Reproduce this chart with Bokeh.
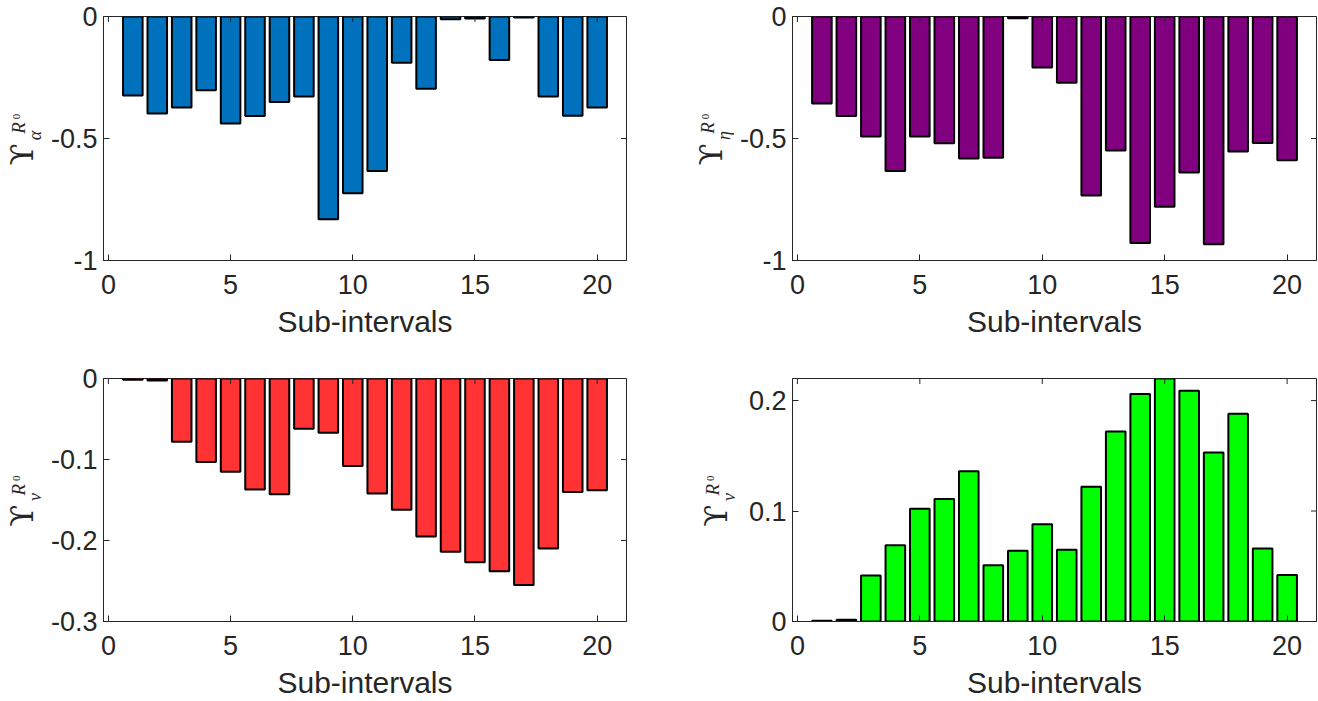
from math import pi
from bokeh.plotting import figure
from bokeh.layouts import column, row
from bokeh.models import Range1d, FixedTicker, ColumnDataSource
from bokeh.core.properties import value
from bokeh.embed import file_html
from bokeh.resources import INLINE

# ---------------- data ----------------
intervals = list(range(1, 21))
alpha_vals = [-0.324, -0.398, -0.373, -0.302, -0.439, -0.408, -0.350, -0.328, -0.831, -0.724,
              -0.633, -0.190, -0.296, -0.011, -0.008, -0.178, -0.004, -0.328, -0.407, -0.373]
eta_vals = [-0.357, -0.408, -0.492, -0.633, -0.492, -0.519, -0.582, -0.579, -0.007, -0.209,
            -0.272, -0.734, -0.549, -0.928, -0.780, -0.639, -0.933, -0.553, -0.518, -0.589]
nu_neg_vals = [-0.0016, -0.0025, -0.078, -0.103, -0.115, -0.137, -0.143, -0.062, -0.067, -0.108,
               -0.142, -0.162, -0.195, -0.214, -0.227, -0.238, -0.255, -0.210, -0.140, -0.138]
nu_pos_vals = [0.0006, 0.0015, 0.0417, 0.069, 0.102, 0.111, 0.136, 0.051, 0.064, 0.088,
               0.065, 0.122, 0.172, 0.206, 0.220, 0.209, 0.153, 0.188, 0.066, 0.042]

x_ticks = [0, 5, 10, 15, 20]
x_tick_labels = ["0", "5", "10", "15", "20"]
y_ticks_a = [-1, -0.5, 0]
y_tick_labels_a = ["-1", "-0.5", "0"]
y_ticks_c = [-0.3, -0.2, -0.1, 0]
y_tick_labels_c = ["-0.3", "-0.2", "-0.1", "0"]
y_ticks_d = [0, 0.1, 0.2]
y_tick_labels_d = ["0", "0.1", "0.2"]
x_label = "Sub-intervals"
y_symbol = "ϒ"
y_sup = ["R", "0"]
y_subs = ["α", "η", "ν", "ν"]

AX = "#262626"
TICK_FONT = "Liberation Sans"
X_LO, X_HI = -0.2, 21.2


def panel(vals, color, yr, yticks, ylabels, width, height, mbl, mbr, mbt, mbb):
    p = figure(width=width, height=height, output_backend="svg", toolbar_location=None,
               x_range=Range1d(X_LO, X_HI), y_range=Range1d(*yr),
               min_border_left=mbl, min_border_right=mbr, min_border_top=mbt, min_border_bottom=mbb)
    p.background_fill_color = "white"
    p.border_fill_color = "white"
    p.outline_line_color = AX
    p.outline_line_width = 1
    p.grid.visible = False

    src = ColumnDataSource(dict(x=intervals, top=vals, bottom=[0] * len(vals)))
    p.vbar(x="x", top="top", bottom="bottom", width=0.8, source=src,
           fill_color=color, line_color="black", line_width=2)

    # mirrored ticks on top and right edges (box on)
    p.scatter(x=x_ticks, y=[yr[1]] * len(x_ticks), marker="dash", angle=pi / 2, size=11,
              line_color=AX, line_width=1)
    p.scatter(x=[X_HI] * len(yticks), y=yticks, marker="dash", size=11, line_color=AX, line_width=1)

    xa = p.xaxis[0]
    xa.ticker = FixedTicker(ticks=x_ticks)
    xa.major_label_overrides = {t: l for t, l in zip(x_ticks, x_tick_labels)}
    ya = p.yaxis[0]
    ya.ticker = FixedTicker(ticks=yticks)
    ya.major_label_overrides = {t: l for t, l in zip(yticks, ylabels)}
    for a in (xa, ya):
        a.axis_line_color = AX
        a.major_tick_line_color = AX
        a.major_tick_in = 6
        a.major_tick_out = 0
        a.minor_tick_line_color = None
        a.major_label_text_font = TICK_FONT
        a.major_label_text_font_size = "27px"
        a.major_label_text_color = AX
    xa.major_label_standoff = 14
    ya.major_label_standoff = 6
    xa.axis_label = x_label
    xa.axis_label_text_font = TICK_FONT
    xa.axis_label_text_font_size = "30px"
    xa.axis_label_text_font_style = "normal"
    xa.axis_label_text_color = AX
    xa.axis_label_standoff = 8
    return p


def ylabel_fig(left, width, height, frame_top, frame_bottom, sub, dx, dy):
    """Strip left of a panel holding the rotated label  Υ^{R_0}_{sub}.
    Bokeh aligns its frame with the neighbouring panel's frame, so its ranges
    are set to page pixels (x: left..left+width, y: frame_bottom..frame_top)."""
    f = figure(width=width, height=height, output_backend="svg", toolbar_location=None,
               x_range=Range1d(left, left + width), y_range=Range1d(frame_bottom, frame_top),
               x_axis_location=None, y_axis_location=None,
               min_border=0, min_border_left=0, min_border_right=0)
    f.grid.visible = False
    f.outline_line_color = None
    f.background_fill_color = "white"
    f.border_fill_color = "white"
    common = dict(angle=pi / 2, text_color=AX, text_align="center", text_baseline="middle")
    f.text(x=[21.5 + dx], y=[154 + dy], text=[y_symbol],
           text_font=value("DejaVu Serif"), text_font_size="32px", **common)
    f.text(x=[18.2 + dx], y=[127.5 + dy], text=[y_sup[0]],
           text_font=value("Liberation Serif"), text_font_style="italic", text_font_size="19px", **common)
    f.text(x=[15.7 + dx], y=[116 + dy], text=[y_sup[1]],
           text_font=value("Liberation Serif"), text_font_size="11px", **common)
    f.text(x=[34.5 + dx], y=[135 + dy], text=[sub],
           text_font=value("Liberation Serif"), text_font_style="italic", text_font_size="18px", **common)
    return f


H1, H2 = 350, 351
# page pixels: row 1 frames y 16..260, row 2 frames y 378..623; frames start at x 103 and 792
la = ylabel_fig(0, 45, H1, 16, 260, y_subs[0], 0, 0)
pa = panel(alpha_vals, "#0072BD", (-1, 0), y_ticks_a, y_tick_labels_a, 644, H1, 58, 63, 16, 90)
lb = ylabel_fig(689, 45, H1, 16, 260, y_subs[1], 689, 0)
pb = panel(eta_vals, "#800080", (-1, 0), y_ticks_a, y_tick_labels_a, 584, H1, 58, 2, 16, 90)

lc = ylabel_fig(0, 45, H2, 378, 623, y_subs[2], 0, 362.5)
pc = panel(nu_neg_vals, "#FF3333", (-0.3, 0), y_ticks_c, y_tick_labels_c, 644, H2, 58, 63, 28, 78)
ld = ylabel_fig(689, 54, H2, 378, 623, y_subs[3], 694, 362.5)
pd = panel(nu_pos_vals, "#00FF00", (0, 0.22), y_ticks_d, y_tick_labels_d, 575, H2, 49, 2, 28, 78)

layout = column(row(la, pa, lb, pb), row(lc, pc, ld, pd))
open("out.html", "w").write(file_html(layout, INLINE))
